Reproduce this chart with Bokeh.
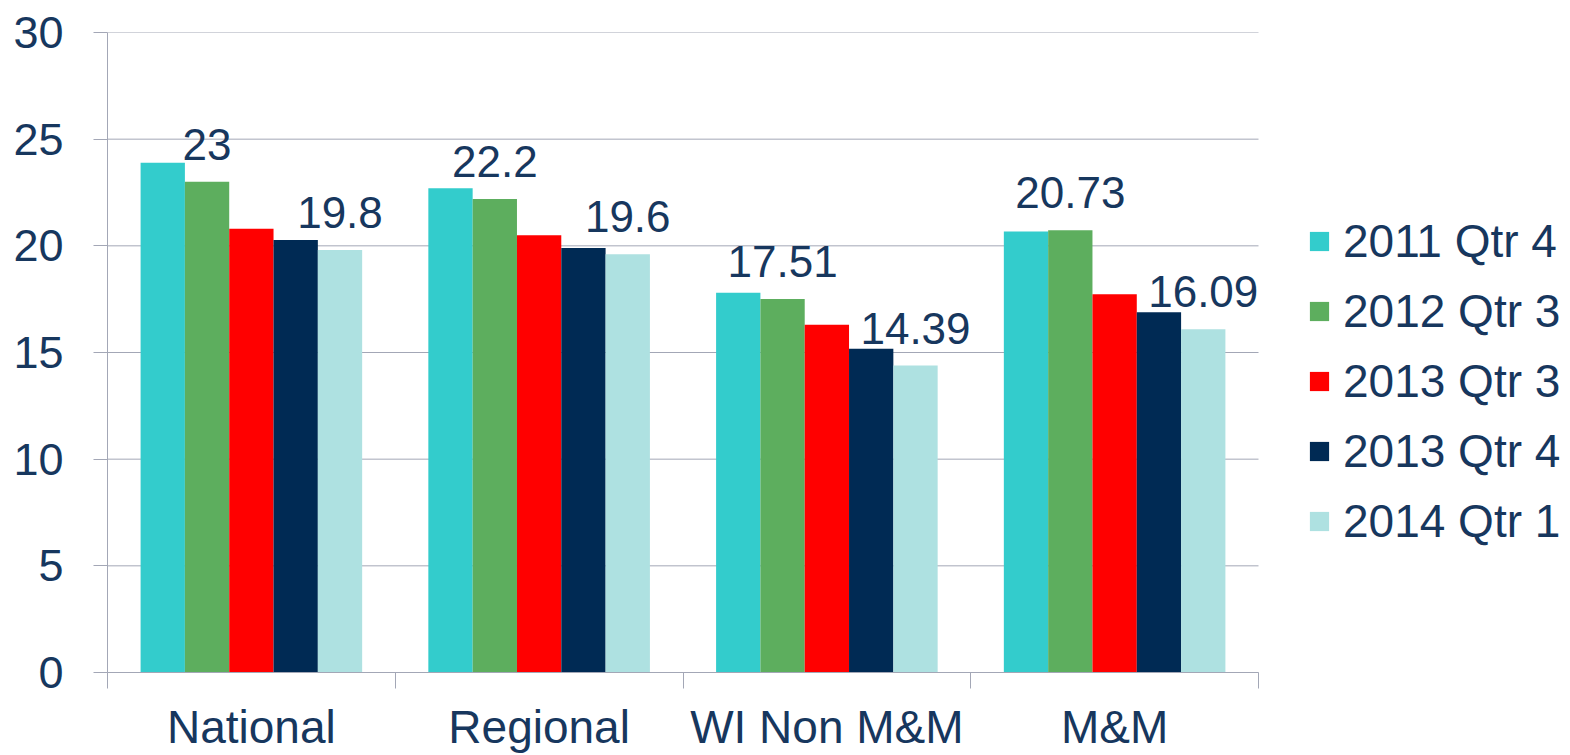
from bokeh.plotting import figure
from bokeh.models import (ColumnDataSource, Range1d, FixedTicker, Legend, LegendItem,
                          LabelSet, LinearAxis)
from bokeh.core.properties import value
from bokeh.transform import dodge
from bokeh.embed import file_html
from bokeh.resources import INLINE

categories = ["National", "Regional", "WI Non M&M", "M&M"]
series_names = ["2011 Qtr 4", "2012 Qtr 3", "2013 Qtr 3", "2013 Qtr 4", "2014 Qtr 1"]
s2011q4 = [23.9, 22.7, 17.8, 20.67]
s2012q3 = [23.0, 22.2, 17.51, 20.73]
s2013q3 = [20.8, 20.5, 16.3, 17.73]
s2013q4 = [20.27, 19.9, 15.17, 16.89]
s2014q1 = [19.8, 19.6, 14.39, 16.09]
labels_2012q3 = ["23", "22.2", "17.51", "20.73"]
labels_2014q1 = ["19.8", "19.6", "14.39", "16.09"]
y_ticks = [0, 5, 10, 15, 20, 25, 30]

colors = ["#33CCCC", "#5DAE5E", "#FF0000", "#002A54", "#AEE1E1"]
TEXT = "#17375E"
GRID = "#A3A7B6"
FONT = "Liberation Sans"

# layout (pixels)
W, H = 1570, 755
LEFT, TOP, RIGHT, BOTTOM = 107, 32, 10, 83
CHART_W = 1151                      # width of the bar area inside the frame
frame_w = W - LEFT - RIGHT
n = len(categories)
x_end = n * frame_w / CHART_W       # frame extends to the right to host the legend

xs = [i + 0.5 for i in range(n)]
src = ColumnDataSource(dict(x=xs, a=s2011q4, b=s2012q3, c=s2013q3, d=s2013q4, e=s2014q1,
                            lb=labels_2012q3, le=labels_2014q1))

p = figure(width=W, height=H, output_backend="svg", toolbar_location=None,
           x_range=Range1d(0, x_end), y_range=Range1d(0, 30),
           min_border_left=LEFT, min_border_right=RIGHT, min_border_top=TOP,
           min_border_bottom=BOTTOM, x_axis_type=None, y_axis_type=None)
p.outline_line_color = None
p.xgrid.grid_line_color = None
p.ygrid.grid_line_color = None

# horizontal gridlines limited to the category area
gsrc = ColumnDataSource(dict(y=y_ticks, x0=[0] * len(y_ticks), x1=[n] * len(y_ticks)))
p.segment(x0="x0", x1="x1", y0="y", y1="y", source=gsrc, line_color=GRID, line_width=1)

bw = 0.154
offsets = [-2 * bw, -bw, 0, bw, 2 * bw]
cols = ["a", "b", "c", "d", "e"]
items = []
for col, off, colr, name in zip(cols, offsets, colors, series_names):
    r = p.vbar(x=dodge("x", off, range=p.x_range), top=col, width=bw, bottom=0,
               source=src, fill_color=colr, line_color=None)
    items.append(LegendItem(label=name, renderers=[r]))

for col, off, lab in [("b", offsets[1], "lb"), ("e", offsets[4], "le")]:
    ls = LabelSet(x=dodge("x", off, range=p.x_range), y=col, text=lab, source=src,
                  y_offset=22, text_align="center", text_baseline="alphabetic",
                  text_font=value(FONT), text_font_size=value("44px"), text_color=value(TEXT))
    p.add_layout(ls)

# y axis
yax = LinearAxis(ticker=FixedTicker(ticks=y_ticks))
yax.axis_line_color = GRID
yax.major_tick_line_color = GRID
yax.major_tick_out = 14
yax.major_tick_in = 0
yax.minor_tick_line_color = None
yax.major_label_text_font = FONT
yax.major_label_text_font_size = "45px"
yax.major_label_text_color = TEXT
yax.major_label_standoff = 30
p.add_layout(yax, "left")

# x axis: labels at centres, ticks at category boundaries
xax = LinearAxis(ticker=FixedTicker(ticks=xs, minor_ticks=list(range(n + 1))), bounds=(0, n))
xax.axis_line_color = GRID
xax.major_tick_line_color = None
xax.major_tick_out = 0
xax.major_tick_in = 0
xax.minor_tick_line_color = GRID
xax.minor_tick_out = 16
xax.minor_tick_in = 0
xax.major_label_overrides = {x: c for x, c in zip(xs, categories)}
xax.major_label_text_font = FONT
xax.major_label_text_font_size = "46px"
xax.major_label_text_color = TEXT
xax.major_label_standoff = 12
p.add_layout(xax, "below")

legend = Legend(items=items, location=(CHART_W + 49, 124), orientation="vertical")
legend.background_fill_alpha = 0
legend.border_line_color = None
legend.margin = 0
legend.padding = 0
legend.glyph_width = 24
legend.glyph_height = 24
legend.label_height = 53
legend.spacing = 16
legend.label_standoff = 12
legend.label_text_font = FONT
legend.label_text_font_size = "46px"
legend.label_text_color = TEXT
p.add_layout(legend, "center")

open("out.html", "w").write(file_html(p, INLINE))
